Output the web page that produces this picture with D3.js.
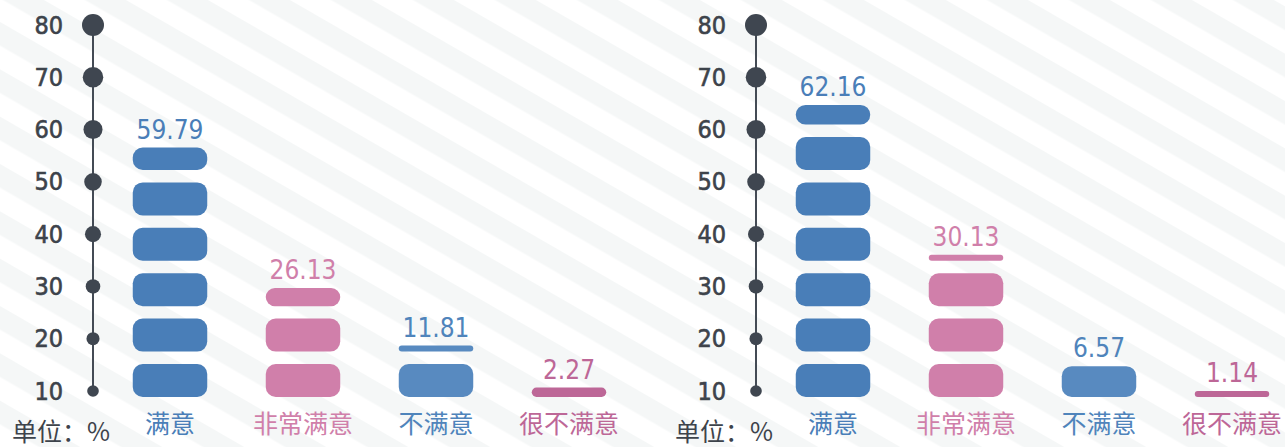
<!DOCTYPE html>
<html>
<head>
<meta charset="utf-8">
<script src="https://cdn.jsdelivr.net/npm/d3@7"></script>
<style>
  html, body { margin: 0; padding: 0; background: #fff; overflow: hidden; }
  svg { display: block; }
</style>
</head>
<body>
<svg id="chart" width="1285" height="447"></svg>
<script>
// Satisfaction shares (%) for two survey groups
const categories = ["满意", "非常满意", "不满意", "很不满意"];
const valuesA = [59.79, 26.13, 11.81, 2.27];
const valuesB = [62.16, 30.13, 6.57, 1.14];
const axisTicks = [10, 20, 30, 40, 50, 60, 70, 80];
const barScaleMax = [70, 62.16];
const barColors = ["#497eb8", "#d07faa", "#588ac0", "#bd6797"];
const labelColors = ["#4a7eb8", "#d07faa", "#4f84bb", "#bd6797"];
const unitLabel = "单位：%";

const W = 1285, H = 447;
const svg = d3.select("#chart");
const numFont = "'DejaVu Sans Condensed', 'Liberation Sans Narrow', sans-serif";
const cjkFont = "'Noto Sans CJK SC', sans-serif";

// striped backdrop
const defs = svg.append("defs");
const pat = defs.append("pattern")
  .attr("id", "stripes")
  .attr("patternUnits", "userSpaceOnUse")
  .attr("width", 41).attr("height", 10)
  .attr("patternTransform", "rotate(-60)");
pat.append("rect").attr("width", 41).attr("height", 10).attr("fill", "#ffffff");
pat.append("rect").attr("x", 1.5).attr("width", 20.5).attr("height", 10).attr("fill", "#f5f7f7");
svg.append("rect").attr("width", W).attr("height", H).attr("fill", "url(#stripes)");

const panelOffsets = [0, 663];
const seriesList = [valuesA, valuesB];

// decorative value axis: dots grow with the tick value
const tickY = d3.scaleLinear().domain([10, 80]).range([391, 25]);
const dotR = d3.scaleLinear().domain([10, 80]).range([5.8, 11]);
const axisX = 93;

const x = d3.scaleBand().domain(categories)
  .range([103.5, 635.5]).paddingInner(0.44).paddingOuter(0.22);

const base = 397, pitch = 45.4, pieceH = 33, minPiece = 6;

seriesList.forEach((values, p) => {
  const g = svg.append("g").attr("transform", `translate(${panelOffsets[p]},0)`);

  g.append("line")
    .attr("x1", axisX).attr("x2", axisX)
    .attr("y1", tickY(80)).attr("y2", tickY(10))
    .attr("stroke", "#444b55").attr("stroke-width", 2);

  g.selectAll("circle.tick").data(axisTicks).join("circle")
    .attr("class", "tick")
    .attr("cx", axisX).attr("cy", d => tickY(d)).attr("r", d => dotR(d))
    .attr("fill", "#3f4650");

  g.selectAll("text.tick").data(axisTicks).join("text")
    .attr("class", "tick")
    .attr("x", axisX - 30).attr("y", d => tickY(d))
    .attr("text-anchor", "end").attr("dominant-baseline", "central")
    .attr("font-family", numFont).attr("font-size", 25)
    .attr("fill", "#3d434b")
    .attr("stroke", "#3d434b").attr("stroke-width", 0.6)
    .text(d => d);

  const y = d3.scaleLinear().domain([0, barScaleMax[p]]).range([base, 105]);

  values.forEach((v, i) => {
    const top = y(v);
    const pieces = [];
    for (let k = 0; base - k * pitch > top + 0.01; k++) {
      const bottom = base - k * pitch;
      let t = Math.max(bottom - pieceH, top);
      if (bottom - t < minPiece) t = bottom - minPiece;
      pieces.push([t, bottom]);
    }
    const bx = x(categories[i]), bw = x.bandwidth();
    g.selectAll(null).data(pieces).join("rect")
      .attr("x", bx).attr("width", bw)
      .attr("y", d => d[0]).attr("height", d => d[1] - d[0])
      .attr("rx", d => Math.min(10, (d[1] - d[0]) / 2))
      .attr("fill", barColors[i]);

    const drawnTop = d3.min(pieces, d => d[0]);
    g.append("text")
      .attr("x", bx + bw / 2).attr("y", drawnTop - 9)
      .attr("text-anchor", "middle")
      .attr("font-family", numFont).attr("font-size", 26)
      .attr("fill", labelColors[i])
      .text(v.toFixed(2));

    g.append("text")
      .attr("x", bx + bw / 2).attr("y", 433)
      .attr("text-anchor", "middle")
      .attr("font-family", cjkFont).attr("font-size", 25)
      .attr("fill", labelColors[i])
      .text(categories[i]);
  });

  g.append("text")
    .attr("x", 12).attr("y", 441)
    .attr("font-family", cjkFont).attr("font-size", 25)
    .attr("fill", "#3d434b")
    .text(unitLabel);
});
</script>
</body>
</html>
